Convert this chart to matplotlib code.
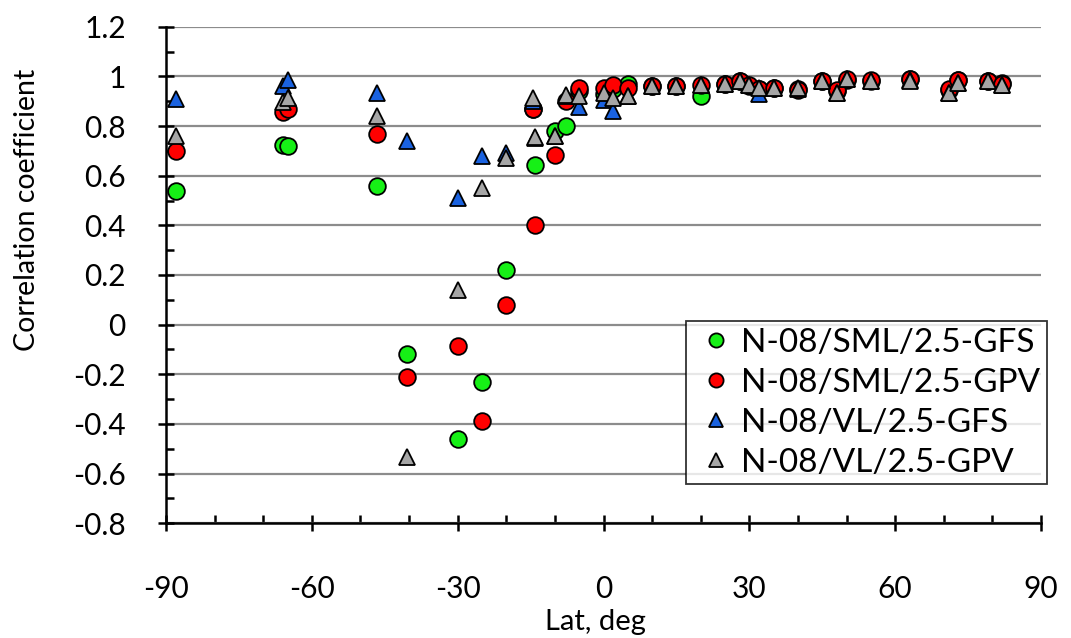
import matplotlib.pyplot as plt
from matplotlib.ticker import MultipleLocator

# latitudes (deg) shared by all four series
lat = [-88, -66, -65, -46.5, -40.5, -30, -25, -20, -14.5, -14, -10, -7.7, -5, 0, 2, 5,
       10, 15, 20, 25, 28, 30, 32, 35, 40, 45, 48, 50, 55, 63, 71, 73, 79, 82]

sml_gfs = [0.54, 0.725, 0.72, 0.56, -0.12, -0.46, -0.23, 0.22, 0.87, 0.645, 0.78, 0.80, 0.94, 0.93, 0.95, 0.97,
           0.96, 0.96, 0.92, 0.97, 0.98, 0.96, 0.95, 0.955, 0.95, 0.98, 0.94, 0.985, 0.98, 0.99, 0.945, 0.985, 0.98, 0.975]
sml_gpv = [0.70, 0.855, 0.87, 0.77, -0.21, -0.085, -0.39, 0.08, 0.87, 0.40, 0.685, 0.90, 0.955, 0.955, 0.965, 0.955,
           0.96, 0.96, 0.965, 0.97, 0.98, 0.965, 0.95, 0.955, 0.945, 0.98, 0.945, 0.99, 0.985, 0.99, 0.95, 0.985, 0.98, 0.97]
vl_gfs = [0.91, 0.96, 0.985, 0.935, 0.74, 0.51, 0.68, 0.69, 0.90, 0.75, 0.76, 0.92, 0.875, 0.905, 0.86, 0.92,
          0.96, 0.96, 0.965, 0.97, 0.98, 0.965, 0.93, 0.955, 0.95, 0.98, 0.935, 0.99, 0.98, 0.985, 0.935, 0.975, 0.98, 0.965]
vl_gpv = [0.76, 0.895, 0.915, 0.84, -0.535, 0.14, 0.55, 0.67, 0.915, 0.755, 0.76, 0.925, 0.92, 0.935, 0.915, 0.92,
          0.96, 0.96, 0.965, 0.97, 0.98, 0.965, 0.955, 0.955, 0.955, 0.98, 0.935, 0.99, 0.98, 0.98, 0.935, 0.975, 0.98, 0.965]

names = ['N-08/SML/2.5-GFS', 'N-08/SML/2.5-GPV', 'N-08/VL/2.5-GFS', 'N-08/VL/2.5-GPV']
colors = ['#16f016', '#ff0000', '#1a62e0', '#a6a6a6']
markers = ['o', 'o', '^', '^']

plt.rcParams['font.family'] = ['Lato', 'DejaVu Sans']
plt.rcParams['axes.unicode_minus'] = False

fig = plt.figure(figsize=(10.71, 6.38), dpi=100)
ax = fig.add_axes([0.155, 0.18, 0.817, 0.778])

for vals, name, c, m in zip([sml_gfs, sml_gpv, vl_gfs, vl_gpv], names, colors, markers):
    ax.plot(lat, vals, linestyle='none', marker=m, ms=12, mfc=c, mec='black', mew=1.3,
            label=name, zorder=3)

ax.set_xlim(-90, 90)
ax.set_ylim(-0.8, 1.2)
ax.xaxis.set_major_locator(MultipleLocator(30))
ax.xaxis.set_minor_locator(MultipleLocator(10))
ax.yaxis.set_minor_locator(MultipleLocator(0.1))
yt = [-0.8, -0.6, -0.4, -0.2, 0, 0.2, 0.4, 0.6, 0.8, 1, 1.2]
ax.set_yticks(yt)
ax.set_yticklabels([f'{v:g}' for v in yt])

ax.grid(axis='y', which='major', color='#8c8c8c', lw=1.6)
ax.set_axisbelow(True)
for s in ['top', 'right']:
    ax.spines[s].set_visible(False)
for s in ['left', 'bottom']:
    ax.spines[s].set_linewidth(1.8)
    ax.spines[s].set_zorder(4)

ax.tick_params(which='major', direction='inout', length=12, width=1.8, labelsize=21.5)
ax.tick_params(axis='y', which='major', pad=23)
ax.tick_params(axis='x', which='major', pad=31)
ax.tick_params(which='minor', direction='in', length=6, width=1.8)

ax.set_xlabel('Lat, deg', fontsize=21, va='center')
ax.xaxis.set_label_coords(0.491, -0.2)
ax.set_ylabel('Correlation coefficient', fontsize=20.5, va='center')
ax.yaxis.set_label_coords(-0.159, 0.631)

leg = ax.legend(loc='upper right', bbox_to_anchor=(1.007, 0.407), borderaxespad=0,
                fontsize=24, markerscale=0.85, frameon=True, fancybox=False,
                edgecolor='black', handletextpad=0.05, borderpad=0.2,
                labelspacing=0.3, handlelength=1.4)
leg.get_frame().set_linewidth(1.3)

fig.savefig('out.png', dpi=100)
